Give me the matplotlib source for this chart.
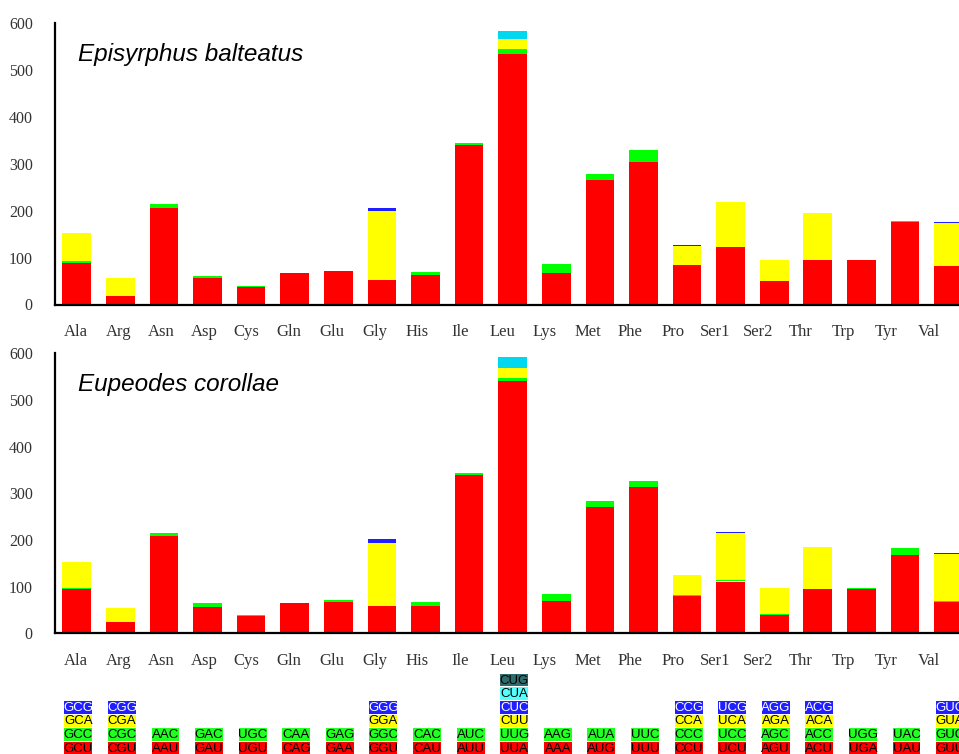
import matplotlib
matplotlib.use("Agg")
import matplotlib.pyplot as plt
from matplotlib.patches import Rectangle
import numpy as np

amino = ["Ala", "Arg", "Asn", "Asp", "Cys", "Gln", "Glu", "Gly", "His", "Ile", "Leu",
         "Lys", "Met", "Phe", "Pro", "Ser1", "Ser2", "Thr", "Trp", "Tyr", "Val"]

# Episyrphus balteatus: stacked codon counts (1st..5th codon of each amino acid)
eb_c1 = [88, 18, 205, 57, 38, 68, 72, 53, 63, 340, 535, 68, 266, 303, 84, 122, 51, 95, 95, 175, 83]
eb_c2 = [4, 0, 10, 3, 1, 0, 0, 0, 7, 4, 10, 18, 12, 27, 1, 0, 0, 1, 1, 4, 0]
eb_c3 = [61, 38, 0, 0, 0, 0, 0, 147, 0, 0, 21, 0, 0, 0, 39, 96, 43, 99, 0, 0, 90]
eb_c4 = [0, 0, 0, 0, 0, 0, 0, 5, 0, 0, 0, 0, 0, 0, 2, 0, 0, 0, 0, 0, 2]
eb_c5 = [0, 0, 0, 0, 0, 0, 0, 0, 0, 0, 17, 0, 0, 0, 0, 0, 0, 0, 0, 0, 0]

# Eupeodes corollae
ec_c1 = [94, 25, 209, 57, 38, 66, 68, 59, 59, 340, 541, 69, 271, 314, 81, 111, 39, 94, 96, 168, 68]
ec_c2 = [4, 0, 7, 7, 1, 1, 3, 0, 8, 3, 6, 16, 12, 13, 2, 4, 3, 1, 1, 15, 2]
ec_c3 = [54, 29, 0, 0, 0, 0, 0, 135, 0, 0, 22, 0, 0, 0, 41, 100, 55, 89, 0, 0, 99]
ec_c4 = [1, 1, 0, 0, 0, 0, 0, 9, 0, 0, 0, 0, 0, 0, 1, 2, 0, 0, 0, 0, 3]
ec_c5 = [0, 0, 0, 0, 0, 0, 0, 0, 0, 0, 23, 0, 0, 0, 0, 0, 0, 0, 0, 0, 0]

species = ["Episyrphus balteatus", "Eupeodes corollae"]

codons = [
    ["GCU", "GCC", "GCA", "GCG"],
    ["CGU", "CGC", "CGA", "CGG"],
    ["AAU", "AAC"],
    ["GAU", "GAC"],
    ["UGU", "UGC"],
    ["CAG", "CAA"],
    ["GAA", "GAG"],
    ["GGU", "GGC", "GGA", "GGG"],
    ["CAU", "CAC"],
    ["AUU", "AUC"],
    ["UUA", "UUG", "CUU", "CUC", "CUA", "CUG"],
    ["AAA", "AAG"],
    ["AUG", "AUA"],
    ["UUU", "UUC"],
    ["CCU", "CCC", "CCA", "CCG"],
    ["UCU", "UCC", "UCA", "UCG"],
    ["AGU", "AGC", "AGA", "AGG"],
    ["ACU", "ACC", "ACA", "ACG"],
    ["UGA", "UGG"],
    ["UAU", "UAC"],
    ["GUU", "GUC", "GUA", "GUG"],
]

bar_colors = ["#FF0000", "#00FF00", "#FFFF00", "#2020FF", "#00D8F0"]
box_colors = ["#FF0000", "#22FF22", "#FFFF00", "#1F1FFF", "#55FFFF", "#2F6B6B"]
box_text = ["black", "black", "black", "white", "black", "black"]

W, H = 959, 754
fig = plt.figure(figsize=(W / 100, H / 100), dpi=100)

x = np.arange(len(amino))
step_px = 43.59
ax_left = 55 / W
ax_width = 21 * step_px / W
bw = 0.658
# tick labels sit on a slightly tighter pitch than the bars
label_pos = (76 + 42.63 * x - 76.7) / step_px


def draw_panel(ax, series, title, title_y):
    bottom = np.zeros(len(amino))
    for vals, col in zip(series, bar_colors):
        vals = np.array(vals, dtype=float)
        ax.bar(x, vals, bw, bottom=bottom, color=col, linewidth=0)
        bottom += vals
    ax.set_xlim(-0.5, 20.5)
    ax.set_ylim(0, 600)
    ax.set_yticks([0, 100, 200, 300, 400, 500, 600])
    ax.set_xticks(label_pos)
    ax.set_xticklabels(amino)
    for lab in ax.get_xticklabels():
        lab.set_fontfamily("Liberation Serif")
        lab.set_fontsize(12)
        lab.set_color("#333333")
    for lab in ax.get_yticklabels():
        lab.set_fontfamily("Liberation Serif")
        lab.set_fontsize(11.5)
        lab.set_color("#333333")
    ax.tick_params(axis="both", length=0)
    ax.tick_params(axis="x", pad=14)
    ax.tick_params(axis="y", pad=16)
    for s in ["top", "right"]:
        ax.spines[s].set_visible(False)
    for s in ["left", "bottom"]:
        ax.spines[s].set_linewidth(1.6)
        ax.spines[s].set_color("black")
    fig.text(78 / W, 1 - title_y / H, title, fontsize=17.5, style="italic",
             family="Liberation Sans", va="baseline", ha="left")


ax1 = fig.add_axes([ax_left, 1 - 304.5 / H, ax_width, (304.5 - 23.3) / H])
draw_panel(ax1, [eb_c1, eb_c2, eb_c3, eb_c4, eb_c5], species[0], 61)

ax2 = fig.add_axes([ax_left, 1 - 633.3 / H, ax_width, (633.3 - 353.3) / H])
draw_panel(ax2, [ec_c1, ec_c2, ec_c3, ec_c4, ec_c5], species[1], 390.7)

# codon table
axt = fig.add_axes([ax_left, 0, ax_width, 84 / H])
axt.set_xlim(-0.5, 20.5)
axt.set_ylim(754, 670)
axt.axis("off")
box_w = 0.64
box_h = 12.6
shift = 1.5 / step_px
for i, cods in enumerate(codons):
    for k, cod in enumerate(cods):
        cy = 748 - 13.6 * k
        cx = i + shift
        r = Rectangle((cx - box_w / 2, cy - box_h / 2), box_w, box_h,
                      facecolor=box_colors[k], edgecolor="none")
        axt.add_patch(r)
        axt.text(cx, cy + 0.5, cod, ha="center", va="center", fontsize=9.5,
                 family=["Liberation Sans Narrow", "Liberation Sans"],
                 color=box_text[k], clip_on=True)

fig.savefig("out.png", dpi=100)
